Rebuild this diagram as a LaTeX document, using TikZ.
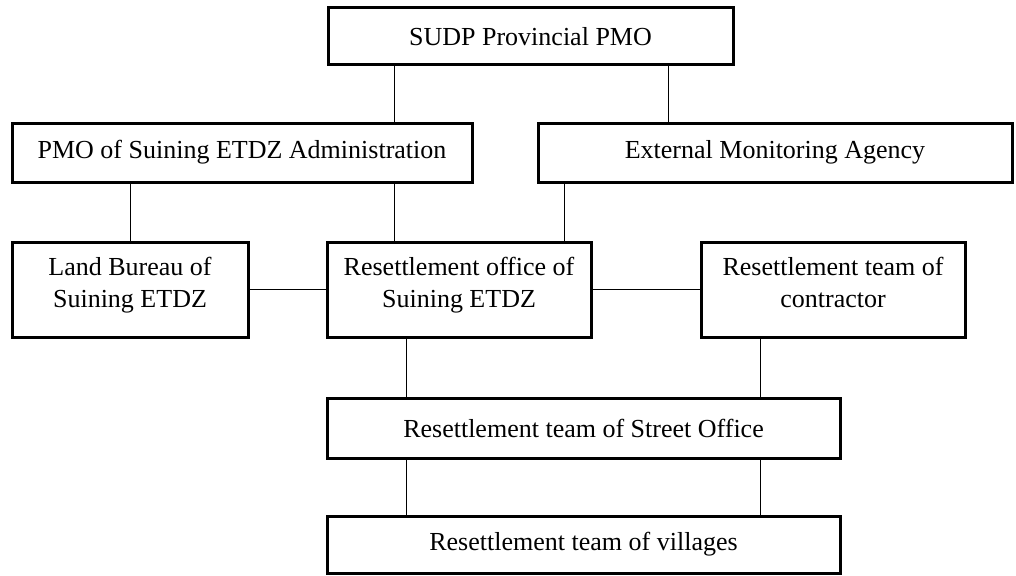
\documentclass[tikz,border=0pt]{standalone}
\usepackage{fontspec}
\setmainfont{Liberation Serif}
\usepackage{tikz}
\usetikzlibrary{positioning}

\begin{document}
\begin{tikzpicture}[x = 1pt, y = -1pt,
                    every node/.style = {draw, line width = 3pt, fill = white, text = black,
                                         align = center, inner sep = 0pt,
                                         font = \fontsize{26}{32}\selectfont},
                    pair/.style = {minimum height = 95pt,
                                   execute at begin node = {\rule{0pt}{18pt}},
                                   execute at end node = {\rule[-15pt]{0pt}{15pt}}},
                    link/.style = {draw, line width = 1pt}]
                \useasboundingbox (0,0) rectangle (1016,575);
                \node (sudp)   [minimum width = 405pt, minimum height = 57pt] at (530.5,36.5) {SUDP Provincial PMO};
                \node (pmo)    [minimum width = 460pt, minimum height = 59pt] at (242,152.5)  {PMO of Suining ETDZ Administration};
                \node (ema)    [minimum width = 474pt, minimum height = 59pt, right = 63pt of pmo] {External Monitoring Agency};
                \node (land)   [pair, minimum width = 236pt] at (130,289.5)  {Land Bureau of\\Suining ETDZ};
                \node (reso)   [pair, minimum width = 264pt, right = 76pt of land]  {Resettlement office of\\Suining ETDZ};
                \node (cont)   [pair, minimum width = 264pt, right = 107pt of reso] {Resettlement team of\\contractor};
                \node (street) [minimum width = 513pt, minimum height = 60pt] at (583.5,428)  {Resettlement team of Street Office};
                \node (vill)   [minimum width = 513pt, minimum height = 57pt, below = 55pt of street] {Resettlement team of villages};
                \draw[link] ([xshift=-136.5pt]sudp.south) -- ([xshift=-136.5pt]sudp.south |- pmo.north);
                \draw[link] ([xshift=137.5pt]sudp.south)  -- ([xshift=137.5pt]sudp.south |- ema.north);
                \draw[link] (land.north |- pmo.south)     -- (land.north);
                \draw[link] ([xshift=-65pt]reso.north |- pmo.south) -- ([xshift=-65pt]reso.north);
                \draw[link] ([xshift=105pt]reso.north |- ema.south) -- ([xshift=105pt]reso.north);
                \draw[link] (land.east) -- (reso.west);
                \draw[link] (reso.east) -- (cont.west);
                \draw[link] ([xshift=-53pt]reso.south) -- ([xshift=-53pt]reso.south |- street.north);
                \draw[link] ([xshift=-73pt]cont.south) -- ([xshift=-73pt]cont.south |- street.north);
                \draw[link] ([xshift=-177.5pt]street.south) -- ([xshift=-177.5pt]street.south |- vill.north);
                \draw[link] ([xshift=176.5pt]street.south)  -- ([xshift=176.5pt]street.south |- vill.north);
            \end{tikzpicture}
\end{document}
